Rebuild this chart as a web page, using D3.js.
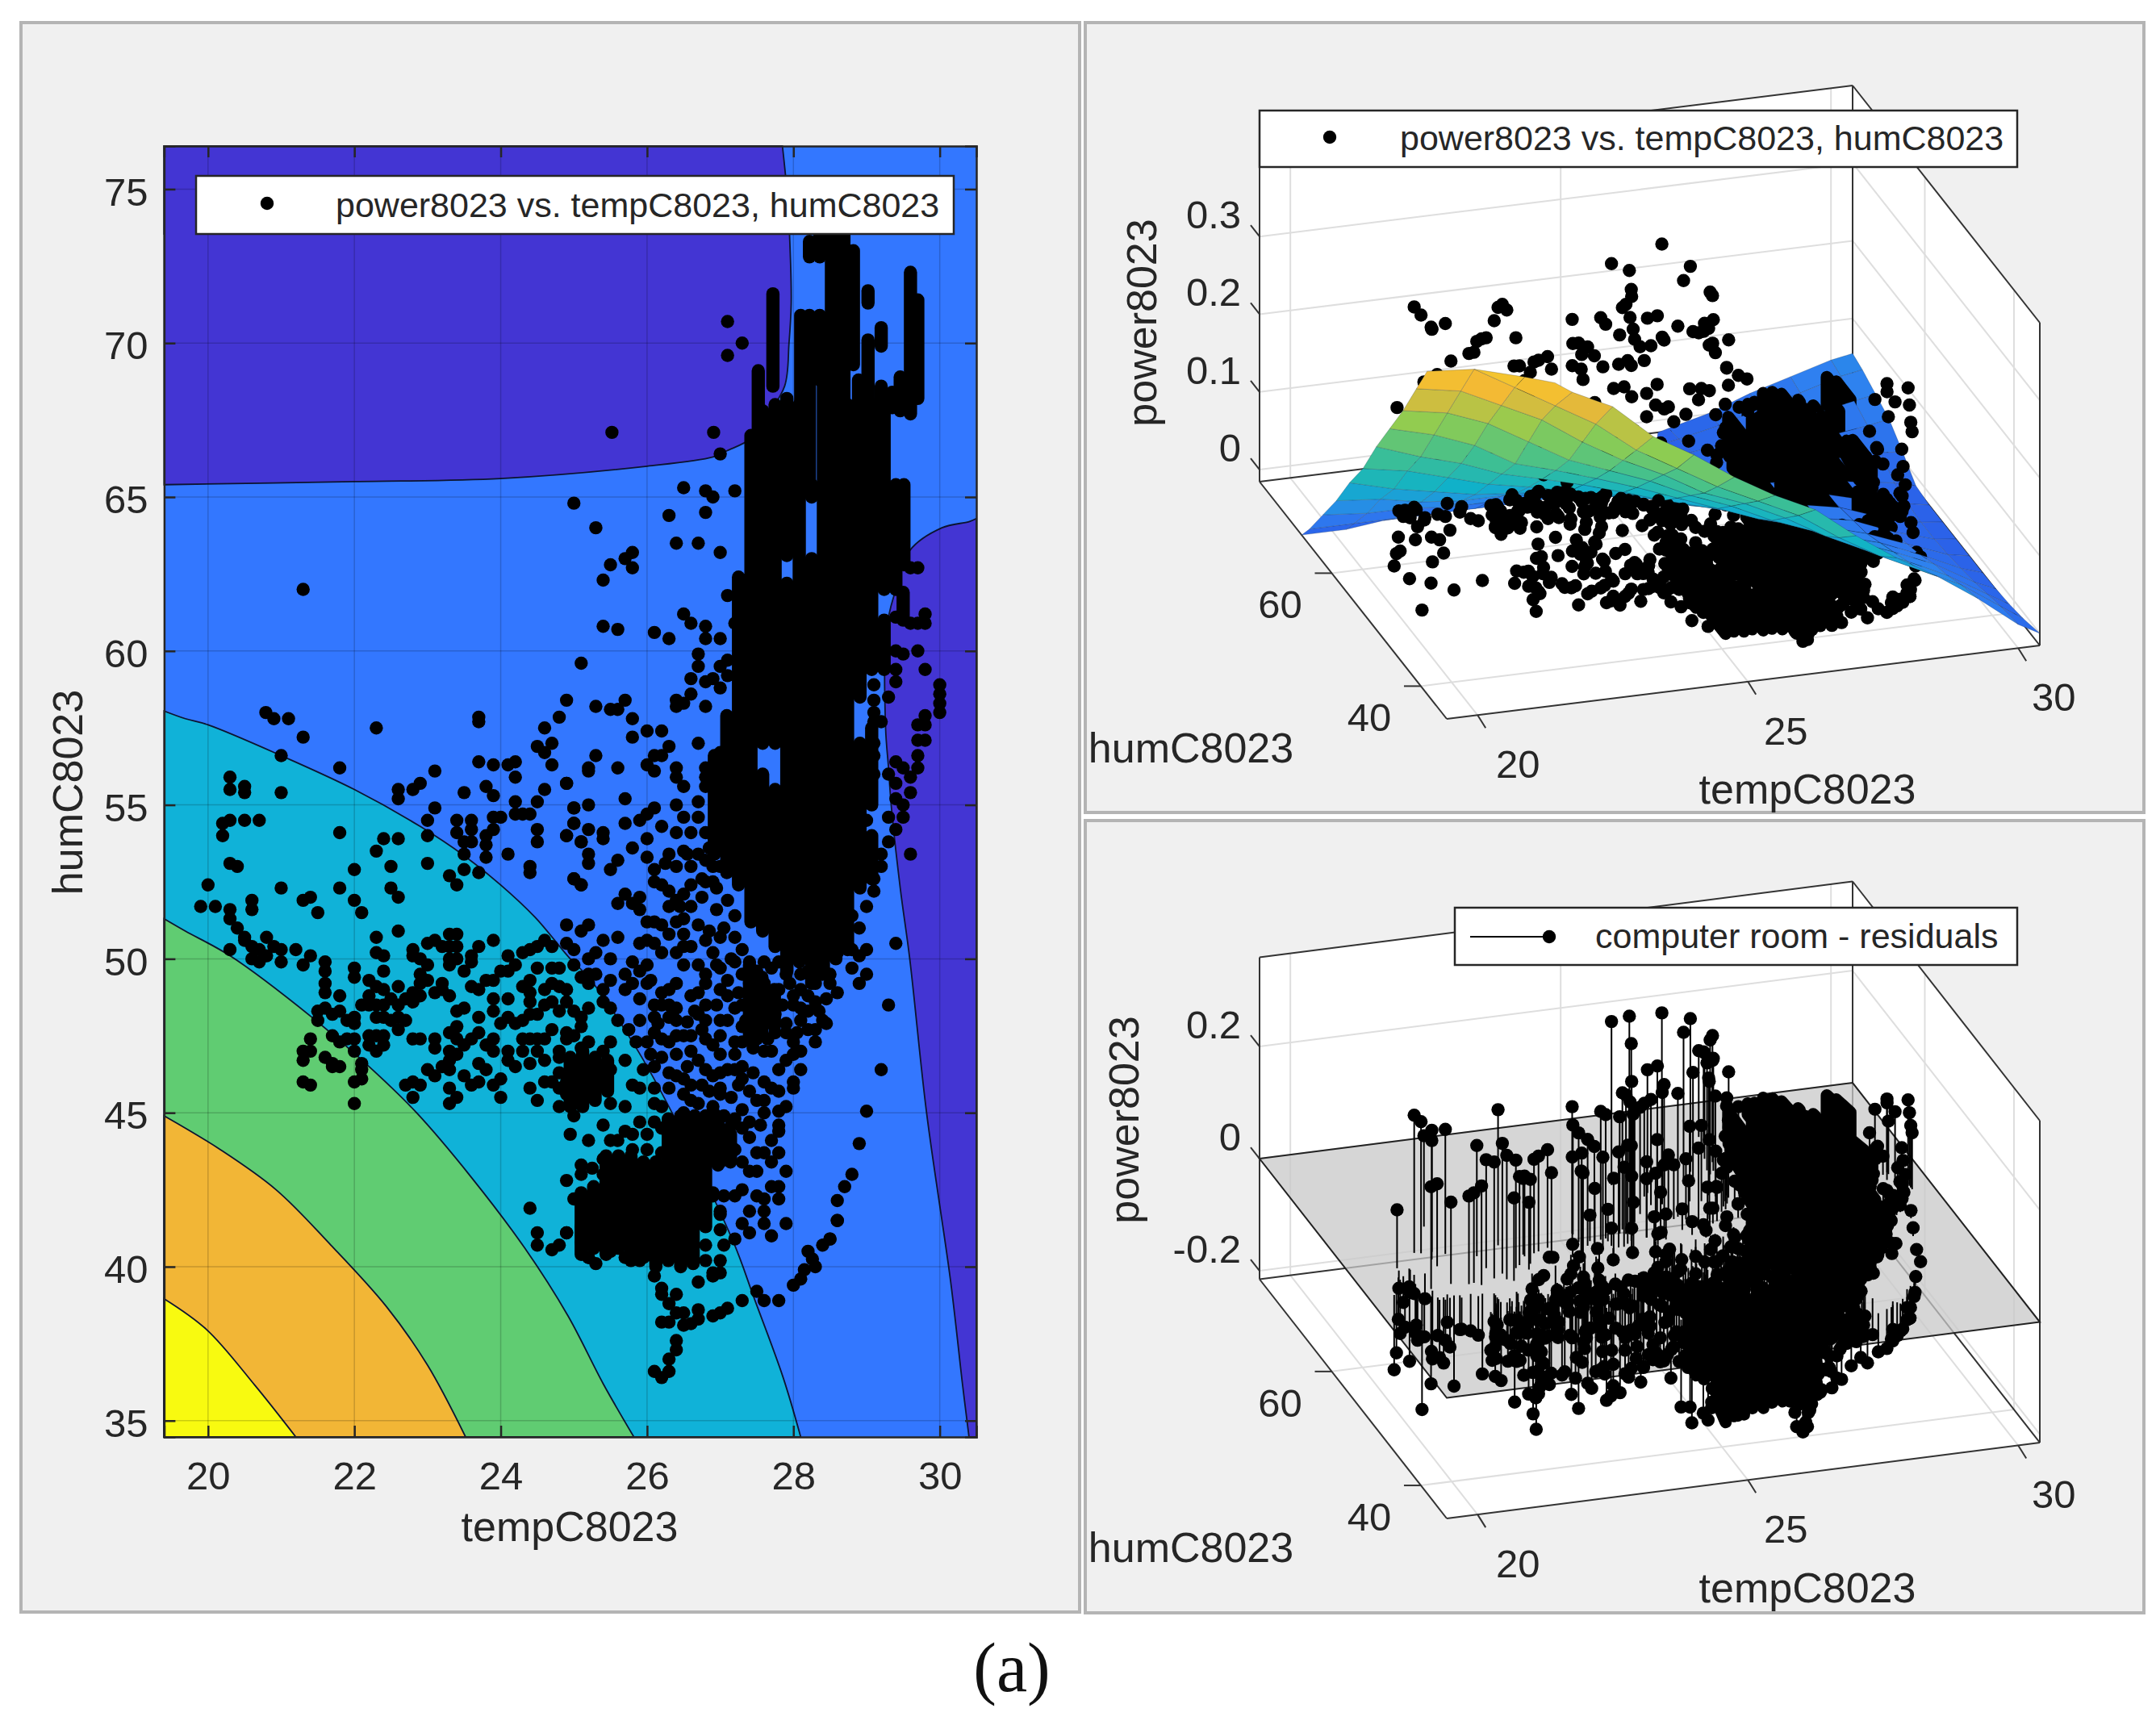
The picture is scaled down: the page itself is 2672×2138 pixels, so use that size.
<!DOCTYPE html>
<html>
<head>
<meta charset="utf-8">
<script src="https://d3js.org/d3.v7.min.js"></script>
<style>
  body { margin: 0; background: #fff; }
  text { font-family: "Liberation Sans", Arial, sans-serif; fill: #262626; }
</style>
</head>
<body>
<div id="chart"></div>
<script>
// tick labels
var tempTicks2d = [20, 22, 24, 26, 28, 30];
var humTicks2d = [35, 40, 45, 50, 55, 60, 65, 70, 75];
var tempTicks3d = [20, 25, 30];
var humTicks3d = [40, 60];
var powerTicks = [0, 0.1, 0.2, 0.3];
var residualTicks = [-0.2, 0, 0.2];

// filled contour bands of the fit, read as [tempC, humC]; the last point of each is a plot corner
var bandDarkest = [[19.4,73.55],[19.98,74.2],[20.93,75.6],[21.45,76.4],[19.4,76.4]];
var bandPurpleTop = [[19.4,65.4],[22,65.5],[24,65.6],[26,66],[26.9,66.3],[27.09,66.5],[27.42,66.9],[27.6,67.5],[27.88,68.6],[27.94,70],[27.97,71.3],[27.96,72.7],[27.92,74.7],[27.85,76.4],[19.4,76.4]];
var bandPurpleRight = [[30.5,64.3],[30.4,64.2],[30.03,64],[29.59,63.26],[29.4,62],[29.27,60.7],[29.26,57.5],[29.3,56.2],[29.34,54.9],[29.46,52.3],[29.59,50],[29.82,45],[30.15,39.5],[30.31,36.2],[30.4,34.47],[30.5,34.47]];
var bandCyan = [[19.4,58.05],[19.69,57.8],[20,57.6],[21,56.6],[22,55.5],[22.9,54.3],[23.5,53.35],[24,52.4],[24.47,51.35],[24.95,50],[25.2,49.4],[25.84,47.15],[26.35,44.96],[27.18,40.8],[27.46,39],[27.86,36.4],[28.1,34.47],[19.4,34.47]];
var bandGreen = [[19.4,51.3],[19.69,50.9],[20.3,50.1],[21.42,48.1],[22.2,46.5],[22.85,45],[23.6,42.9],[24.33,40.6],[24.92,38.4],[25.4,36.2],[25.82,34.47],[19.4,34.47]];
var bandOrange = [[19.4,44.9],[20.17,43.8],[20.93,42.5],[21.68,40.7],[22.44,38.7],[23,36.8],[23.52,34.47],[19.4,34.47]];
var bandYellow = [[19.4,38.96],[19.98,37.96],[20.64,36.15],[21.2,34.47],[19.4,34.47]];

// fitted surface, estimated from the contours: one row per tempGrid value, one column per humGrid value
var tempGrid = [19.43,20.25,21,21.75,22.5,23.25,24,24.75,25.5,26.25,27,27.75,28.5,29.25,30,30.4];
var humGrid = [34.2,38,41,44,47,50,53,56,59,62,65,68,71,74,76.2];
var fitGrid = [
  [.47,.41,.36,.31,.265,.22,.17,.13,.085,.045,.005,-.03,-.07,-.11,-.14],
  [.46,.40,.35,.30,.25,.20,.16,.115,.08,.04,.005,-.03,-.06,-.09,-.11],
  [.42,.37,.325,.28,.23,.185,.145,.105,.07,.04,.005,-.02,-.05,-.08,-.095],
  [.385,.34,.30,.25,.20,.165,.13,.095,.065,.035,.005,-.02,-.04,-.07,-.085],
  [.36,.31,.265,.22,.185,.152,.12,.09,.065,.035,.005,-.015,-.035,-.055,-.07],
  [.315,.27,.235,.20,.168,.138,.108,.085,.06,.03,.005,-.01,-.03,-.05,-.06],
  [.285,.24,.21,.18,.15,.122,.095,.075,.05,.03,.007,-.01,-.025,-.04,-.05],
  [.25,.21,.18,.155,.13,.105,.085,.065,.045,.03,.007,-.01,-.02,-.035,-.04],
  [.22,.185,.16,.135,.11,.09,.07,.055,.04,.025,.007,-.005,-.015,-.025,-.03],
  [.195,.16,.135,.11,.09,.075,.06,.045,.03,.02,.007,-.005,-.01,-.02,-.025],
  [.155,.125,.105,.09,.075,.06,.045,.035,.025,.015,.01,-.002,-.005,-.01,-.012],
  [.12,.095,.08,.07,.055,.045,.035,.03,.02,.015,.01,.004,.002,.001,.001],
  [.09,.07,.06,.05,.04,.03,.025,.02,.015,.012,.012,.012,.014,.016,.02],
  [.055,.045,.035,.028,.018,.01,.004,.001,.001,.003,.012,.018,.025,.03,.035],
  [.015,.01,.004,-.002,-.006,-.01,-.012,-.012,-.01,-.005,.012,.025,.035,.045,.05],
  [0,-.008,-.012,-.014,-.015,-.015,-.015,-.015,-.015,-.012,.01,.03,.04,.05,.055]
];

// measured points as [tempC, humC, power], grouped by where they sit in the left plot
var ptsUpper = [
  [25.52,67.1,.27],[26.91,67.1,.19],[27,66.4,.23],[27.1,70.7,.15],[27.3,70,.14],[27.1,69.6,.16],[21.3,62,.2],
  [25,64.8,.30],[25.3,64,.27],[26.3,64.4,.27],[26.8,64.5,.25],[26.5,65.3,.28],[26.8,65.2,.2],[26.9,65,.21],[27.2,65.2,.18],
  [26.4,63.5,.21],[26.7,63.5,.19],[27,63.2,.16],[25.8,63.2,.33],[25.7,63,.24],[25.5,62.8,.24],[25.8,62.7,.21],[25.4,62.3,.19],
  [27.1,61.8,.16],[27.3,62.3,.15],[26.5,61.2,.23],[26.6,60.9,.2],[25.4,60.8,.22],[25.6,60.7,.23],[26.1,60.6,.16],[26.3,60.4,.16],
  [26.8,60.8,.18],[26.8,60.4,.16],[27,60.4,.13],[27.2,60.9,.12],[26.7,59.9,.14],[26.7,59.5,.09],[25.1,59.6,.23],[27,59.5,.1],[27.1,59.7,.08],
  [26.6,59.1,.11],[26.8,59,.07],[26.9,59.1,.06],[27,58.8,.05],[27.1,59.2,.05],[26.6,58.6,.12],[26.4,58.4,.14],[26.5,58.3,.1],[26.4,58.2,.08],[26.8,58.2,.04],
  [24.9,58.4,.25],[25.3,58.2,.19],[25.5,58.1,.16],[25.6,58.1,.14],[25.7,58.4,.26],[25.8,57.8,.15],[26,57.4,.17],[26.2,57.4,.18],[25.8,57.2,.12],
  [26.7,57,.06],[26.3,56.9,.1],[25.3,56.6,.17],[26.1,56.6,.11],[26.2,56.6,.07],[25.2,56.2,.13],[25.2,56.1,.06],[25.6,56.2,.09],[26,56.3,.05],[26.1,56.1,.08],
  [26.4,56.2,.04],[26.4,55.9,.06],[26.5,55.6,.03],[26.8,56.2,.05],[26.8,55.9,.02],[26.8,55.6,.03],[27,56.7,.04],[27,56.1,.02],[24.9,55.7,.17],[25.7,55.2,.08],
  [25,54.9,.05],[25.2,55,.11],[26.1,54.9,.04],[26,54.7,.03],[25.9,54.5,.07],[26.4,55,.02],[26.7,55.1,.03],[26.5,54.6,.02],[26.7,54.6,.03],[25.7,54.4,.03],
  [26.2,54.3,.02],[26.4,54.1,.05],[26.6,54.1,.02],[25,54.4,.03],[25.2,54.2,.06],[25.4,54.1,.02],[25.4,53.9,.04],[24.9,54,.03],[25.1,53.8,.02],[26,53.9,.02],
  [25.8,53.6,.03],[25.2,53.4,.02],[25.2,53.1,.01],[25.6,53.2,.02],[25.5,52.9,.01],[26,53.3,.03],[26.1,52.9,.01],[26.3,53.4,.02],[26.5,53.5,.01],[26.4,53,.02],
  [26.6,53,.01],[26.7,53.4,.02],[26.8,53.2,.01],[26.9,53,.02],[27,53,.01],[25,52.6,.02],[25.1,52.4,.01],[26.1,52.5,.02],[26.2,52.4,.01],[26.6,52.4,.02],
  [26.8,52.5,.01],[26.9,52.5,.02],[26.8,54.1,.01],[26.9,54,.02],[27,53.7,.01]
];
var ptsLeftSparse = [
  [20.79,58,.33],[20.9,57.8,.32],[21.1,57.8,.3],[21.3,57.2,.31],[22.3,57.5,.32],[23.7,57.85,.29],[23.7,57.7,.26],[24.8,57.85,.31],[24.6,57.5,.3],[21,56.6,.31],
  [21.8,56.2,.29],[23.1,56.1,.26],[23.7,56.4,.27],[23.9,56.3,.12],[24.1,56.3,.3],[24.2,56.4,.29],[24.5,56.9,.27],[24.6,56.7,.31],[24.7,57,.29],[24.7,56.3,.28],
  [24.2,55.9,.13],[20.3,55.9,.22],[20.3,55.5,.09],[20.5,55.6,.085],[20.5,55.4,.08],[21,55.4,.26],[22.6,55.5,.23],[22.6,55.2,.24],[22.8,55.5,.26],[22.9,55.7,.26],
  [23.5,55.4,.25],[23.8,55.6,.27],[23.9,55.3,.26],[24.9,55.7,.2],[24.6,55.5,.24],[24.5,55.1,.25],[23.1,54.9,.09],[24.2,55.1,.11],[24.2,54.7,.06],[24.3,54.7,.25],
  [24.4,54.7,.22],[25,54.9,.19],[20.3,54.5,.09],[20.2,54.4,.065],[20.2,54,.05],[20.5,54.5,.1],[20.7,54.5,.085],[21.8,54.1,.31],[23,54.5,.1],[23,54,.26],
  [22.4,53.9,.27],[22.6,53.9,.26],[22.3,53.5,.31],[23.4,54.5,.06],[23.6,54.5,.27],[23.6,54.2,.24],[23.4,54.1,.12],[23.9,54.6,.09],[24,54.6,.25],[23.9,54.2,.04],
  [23.8,54,.21],[23.5,53.8,.1],[23.6,53.8,.05],[23.8,53.7,.03],[23.5,53.4,.26],[23.8,53.3,.08],[24.1,53.4,.23],[24.5,54.2,.21],[24.5,53.8,.17],[24.9,54,.13],
  [25,54.4,.09],[25.1,53.8,.06],[20.3,53.1,.02],[20.4,53,.07],[23,53.1,.05],[22.5,53,.24],[22,52.9,.36],[23.5,52.9,.08],[23.7,52.8,.04],[23.3,52.7,.11],
  [23.4,52.4,.03],[24.4,53,.14],[24.4,52.8,.1],[25,52.6,.07],[25.1,52.4,.04],[20,52.4,.06],[21,52.3,.3],[21.8,52.3,.345],[22.5,52.3,.1],[22.6,52,.12],
  [21.4,52,.31],[22,51.9,.36],[20.6,51.9,.35],[20.6,51.6,.05],[19.9,51.7,.05],[20.1,51.7,.12],[21.5,51.5,.33],[22.1,51.5,.29],[21.3,51.9,.31],[20.3,51.6,.12],
  [20.3,51.3,.1],[20.4,51,.11],[20.5,50.7,.03],[20.5,50.6,.09],[20.6,50.4,.12],[20.7,50.3,.07],[20.8,50.7,.13],[20.9,50.4,.02],[21,50.3,.12],[21.2,50.3,.11],
  [20.3,50.3,.0],[20.8,50.1,.1],[20.6,50,.09],[20.7,49.9,.12],[21,49.9,.13],[21.3,49.8,.11],[21.4,50.1,.03],[22.3,50.7,.03],[22.6,50.9,.15],[22.3,50.2,.13],
  [22.4,50.1,.05],[22.4,49.6,.14],[21.6,49.9,.12],[21.6,49.6,.1],[21.6,49.2,.13],[21.6,48.9,.11],[22,49.7,.04],[22,49.4,.12],[21.8,48.8,.14],[22.6,49.1,.13]
];
var ptsMidCluster = [
  [22.8,50.3,.13],[22.8,50.1,.05],[22.9,50,.12],[23,50.5,.14],[23.1,50.6,.03],[23,49.8,.13],[22.9,49.5,.12],[23,49.3,.06],[22.9,49.2,.13],[22.8,48.9,.14],
  [22.7,48.7,.11],[22.6,48.5,.13],[22.8,48.6,.02],[22.9,48.8,.12],[23.1,48.9,.13],[23.2,49,.04],[23.3,48.8,.13],[23.2,49.2,.11],[23.3,50.8,.11],[23.4,50.8,.03],
  [23.2,50.4,.12],[23.3,50.4,.02],[23.4,50.4,.1],[23.3,50,.12],[23.4,50,.05],[23.6,50.1,.11],[23.7,50.4,.02],[23.6,49.9,.12],[23.3,49.8,.04],[23.9,50.6,.1],
  [24.1,50.1,.11],[24.3,50.2,.02],[24.4,50.3,.1],[24.2,49.8,.11],[24.1,49.6,.03],[23.9,49.3,.12],[23.8,49.3,.05],[23.6,49.1,.13],[23.7,49,.02],[23.5,49.6,.12],
  [24,49.6,.02],[23.9,48.7,.12],[24.1,48.7,.04],[23.4,48.3,.13],[24.3,49.1,.11],[24.4,49.3,.02],[24.5,49.7,.1],[24.4,48.9,.04],[24.4,48.6,.11],[24.4,48.2,.02],
  [24.5,48.2,.12],[24.6,49,.01],[24.7,48.6,.11],[24.7,49.7,.09],[24.8,49.7,.02],[25,49.8,.1],[24.7,49.2,.03],[24.8,49.1,.09],[24.9,49,.01],[24.9,48.6,.1],
  [25,48.3,.02],[25.1,48.1,.09],[24.2,47.9,.12],[24.3,48,.01],[24,47.9,.11],[24.7,47.7,.01],[24.3,47.4,.12],[24.4,47.4,.02],[24.5,47.4,.1],[24.6,47.4,.01],
  [24.9,47.6,.11],[24.9,47.4,.02],[24.8,47,.1],[24.5,47,.01],[24.8,46.8,.11],[24.4,46.6,.02],[24.1,47,.1],[24.1,46.7,.02],[24.2,46.5,.11],[23.8,47.2,.01],
  [23.9,47.4,.12],[23.9,47,.02],[23.7,47.6,.13],[23.6,47.4,.03],[23.5,47.2,.12],[23.4,47.8,.02],[23.3,47.6,.13],[23.4,47.4,.06],[23.3,47,.13],[23.4,46.9,.03],
  [23.3,46.7,.12],[23.2,46.5,.05],[23,46.4,.13],[23.1,46.2,.03],[23.3,46.4,.11],[23.5,46.2,.02],[23.7,46.6,.1],[23.8,46.4,.02],[23.7,46,.08],[23.6,45.9,.01],
  [23.9,45.9,.06],[24,46.1,.01],[24,45.5,.05],[23.4,45.5,.02],[23.3,45.8,.07],[23.3,45.3,.02],[22.8,46,.1],[22.7,45.9,.04],[22.9,45.9,.09],[22.8,45.5,.02],
  [24.4,45.8,.04],[24.5,45.4,.01],[24.6,46,.05],[24.7,46,.02],[24.8,46.3,.06],[24.9,46,.01],[25,46.4,.05],[25.1,46,.02],[24.8,45.8,.03],[24.9,45.6,.01],
  [25,45.7,.03],[25,45.3,.01],[24.8,45.2,.02],
  [23.9,48.3,.11],[24.1,48.1,.03],[24.6,48.5,.1],[24.8,48.3,.02],[23.5,48.4,.13],[23.7,48.1,.12],[24.3,47,.02],[24.6,46.7,.1],[25.1,47.8,.05],[25,47.5,.02],
  [25.2,48.4,.02],[25.1,49.4,.03],[25,50.3,.03],[25.2,50,.02],[24.7,50.4,.04],[24.9,50.5,.05],[24.6,50.6,.09],[24.5,50.4,.02]
];
var ptsGreenEdge = [
  [22.1,48.5,.13],[22.2,48.8,.14],[22.2,48.5,.04],[22.3,48.5,.13],[22.4,48.5,.05],[22.5,48.7,.14],[22.3,48.1,.02],[22.4,48.1,.13],[22.5,48,.04],[22.6,48.1,.12],
  [22.7,48,.03],[22.6,47.7,.12],[22.3,49.1,.14],[22.2,49.3,.13],[22.4,49,.06],[21.5,48.3,.14],[21.6,48.4,.13],[21.5,48,.14],[21.7,48.2,.12],[21.8,48.3,.15],
  [21.9,48,.13],[22,48.1,.05],[22,47.9,.14],[21.7,47.5,.13],[21.8,47.3,.15],[21.9,47.4,.12],[22,47.4,.14],[22,47,.04],[22.2,47.5,.13],[22.3,47.5,.05],
  [22.4,47.5,.12],[22.2,47.2,.03],[22.3,47,.13],[22.4,47.2,.04],[21.4,47.4,.14],[21.3,47,.15],[21.4,47,.13],[21.3,46.7,.14],[21.6,46.8,.12],[21.7,46.6,.13],
  [21.7,46.5,.05],[21.8,46.5,.12],[22.1,46.6,.04],[22.1,46.4,.12],[21.3,46,.13],[21.4,45.9,.12],[22,46,.03],[22.1,46.1,.1],[22,45.3,.02],[22.8,47.4,.11],
  [22.9,47.4,.03],[23.1,47.4,.11],[23.1,47.1,.02]
];
var ptsCenter = [
  [25.6,51.8,.02],[25.7,52.1,.01],[25.9,52,.03],[25.9,51.6,.01],[25.8,51.8,.02],[26.3,51.7,.01],[26.4,51.9,.03],[24.9,51.1,.05],[25.2,51.1,.03],[25.1,50.9,.01],
  [25.4,50.6,.02],[25.6,50.7,.01],[25.3,50.2,.03],[25.5,50,.02],[26,51.2,.01],[26.1,51.2,.02],[26.2,51.1,.01],[26.4,51.2,.02],[26.5,51.3,.01],[26.7,51.1,.02],
  [26.3,50.8,.01],[26,50.6,.03],[25.9,50.5,.01],[26.1,50.5,.02],[26.2,50.2,.01],[26.5,50.8,.02],[26.5,50.4,.01],[26.4,50.2,.03],[26.6,50.4,.01],[26.8,50.6,.02],
  [26.9,50.2,.01],[27,50.7,.02],[25.8,49.9,.01],[26,49.8,.02],[25.9,49.6,.01],[25.7,49.5,.03],[25.8,49.2,.01],[26,49.2,.02],[25.7,49,.01],[26.5,49.8,.02],
  [26.7,49.8,.01],[26.8,49.5,.02],[26.8,49.2,.01],[26.4,49.2,.02],[26.3,49,.01],[26.6,48.8,.02],[26.7,48.9,.01],[25.5,49.3,.03],[25.2,49.5,.01],[25.3,49.5,.02],
  [25.2,49.2,.01],[25.4,49,.03],[25.4,48.6,.01],[25.5,48.4,.02],[25.6,48,.01],[25.9,48.7,.02],[26.1,48.5,.01],[26.2,48.5,.02],[26.3,48.5,.01],[26.4,48.4,.02],
  [26.1,48.1,.01],[25.9,48,.02],[26.3,48.1,.01],[26.4,48,.03],[26.8,48.5,.01],[26.7,48.2,.02],[26.8,48,.01],[26.8,47.4,.02],[26.6,47.5,.01],[26.5,47.5,.02],
  [26.4,47.5,.01],[26.3,47.3,.03],[26.2,47.4,.01],[26.1,47.6,.02],[26,47.3,.01],[26.4,46.9,.02],[26.6,47,.01],[27,48,.02],[27,47.5,.01],[27.1,48.8,.02],
  [27.1,48,.01],[27.2,47.3,.02],[27.2,49.9,.01],[27,49.7,.02],[27.4,49.9,.01],[27.5,49.6,.02],[27.7,49.7,.01],[27.4,49.2,.02],[27.5,49.1,.01],[27.6,49.2,.02],
  [27.9,49.5,.01],[27.8,49,.02],[28,48.8,.01],[28,48.5,.02],[27.4,48.7,.01],[27.6,48.6,.02],[27.3,48.5,.01],[27.5,48.4,.02],[27.75,48.2,.01],[27.9,47.9,.02],
  [27.9,47.6,.01],[27.3,47.8,.02],[27.4,47.7,.01],[27.5,47.8,.02],[27.5,47.4,.01],[27.3,47.3,.02],[27.6,47,.01],[27.45,47.1,.02],[27.7,47,.01],[27.2,46.9,.02],
  [27,46.9,.01],[28,47.3,.02],[28.1,47,.01],[28,46.9,.02],[27.9,46.7,.01],[27.8,46.4,.02],[28.1,46.4,.01],[28.1,49.5,.02],[28.2,49.6,.01],[28.4,49.5,.02],
  [28.5,49.5,.01],[28.3,49.2,.02],[28.5,49.2,.01],[28.6,48.9,.02],[28.3,48.6,.01],[28.2,48.3,.02],[28.1,48,.01],[28.4,48,.02],[28.2,47.7,.01],[28.3,47.3,.02],
  [28.4,49.9,.01],[28.8,49.7,.04],[29,49.5,.02],[28.9,49.2,.01],[29.4,50.5,.02],[29.3,48.5,.01],[29.2,46.4,.02],[29.1,52.2,.03],[29,51.7,.01],[28.9,51,.02],
  [28.8,50.3,.01],[28.9,50.1,.02],[29,50.3,.01],[28.7,50.6,.02],[28.5,50.6,.01],[28.6,50.2,.02],[28.8,51.4,.01],
  [26.1,46.5,.02],[26.3,46.3,.01],[26.4,46.2,.02],[26.5,46.1,.01],[26.6,45.9,.02],[26.3,45.8,.01],[26.8,46.4,.02],[26.9,46.2,.01],[27,46.3,.02],[27,45.8,.01],
  [27.1,46.4,.02],[27.2,46.4,.01],[27.3,46.5,.02],[27.4,45.7,.01],[27.6,46,.02],[27.7,45.8,.01],[27.8,45.7,.02],[28,46,.01],[28,45.8,.02],[26.5,45.6,.01],
  [26.6,45.4,.02],[26.7,45.3,.01],[26.9,45.2,.02],[27,45.6,.01],[27.3,45.1,.02],[27.6,45.4,.01],[27.6,45,.02],[27.8,45.05,.01],[27.9,45.2,.02],[26.5,45,.01],
  [26.4,44.7,.02],[26.4,44.3,.01],[26.6,44.4,.02],[26.8,44.7,.01],[26.9,44.4,.02],[27,44.5,.01],[27.2,44.8,.02],[27.3,44.5,.01],[27.4,44.7,.02],[27.1,44.2,.01],
  [27.2,43.8,.02],[26.8,44.1,.01],[26.5,43.8,.02],[27.8,44.6,.01],[27.8,44.4,.02],[27.7,44.1,.01],[27.8,43.7,.02],[27.6,43.7,.01],[27.7,43.4,.02],[27.3,43.4,.01],
  [27.4,43.1,.02],[27.5,43.1,.01],[27.9,43.1,.02],[27,43.4,.01],[26.9,43.6,.02],[26.7,43.5,.01],[27.7,42.6,.02],[27.8,42.6,.01],[27.8,42.2,.02],[27.5,42.3,.01],
  [27.6,42.2,.02],[27.4,41.8,.01],[27.6,41.8,.02],[27.6,41.4,.01],[27.7,41,.02],[27.9,41.4,.01],[27.3,42.5,.02],[27.3,41.4,.01],[27.4,41.1,.02],[27.2,40.9,.01],
  [27.2,42.3,.02],[26.9,42.3,.01],[27,41.7,.02]
];
var ptsCenterExtra = [
  [26.75,52,.01],[26.95,51.6,.02],[27.1,51.9,.01],[27.2,51.4,.02],[27.05,51,.01],[27.2,50.7,.02],[26.85,50.9,.01],[27.3,50.3,.02],[27.15,50,.01],[26.95,49.8,.02],
  [27.3,49.5,.01],[27.1,49.3,.02],[27,49,.01],[27.25,48.9,.02],[27.2,48.4,.01],[26.95,48.5,.02],[27.35,48,.01],[27.45,48.6,.02],
  [27.6,49.9,.01],[27.8,49.9,.02],[27.95,49.2,.01],[28.1,49,.02],[28.2,48.8,.01],[27.85,48.5,.02],[27.7,48.7,.01],[28.1,48.4,.02],[27.6,48,.01],[27.75,47.6,.02],
  [27.65,47.4,.01],[28.05,47.6,.02],[28.45,48.7,.01],[28.35,48.3,.02],[28.45,47.9,.01],[28.3,47.7,.02],
  [26.2,48.9,.02],[26.05,49.3,.01],[26.15,47.9,.02],[25.75,47.7,.01],[25.85,47.3,.02],[26.65,48.3,.01],[26.55,47.95,.02],[26.75,47.7,.01],[26.9,47.2,.02],[26.7,46.7,.01],
  [26.55,46.5,.02],[26.2,46.8,.01],[26.05,46.9,.02],[25.95,46.4,.01],[26.75,45.9,.02],[26.85,45.7,.01],[27.15,45.5,.02],[27.25,45.9,.01],[27.45,46.3,.02],[27.3,46.1,.01],
  [27.5,45.4,.02],[27.15,44.6,.01],[27.05,44.9,.02],[26.95,44.9,.01],[26.65,44.9,.02],[27.4,44.2,.01],[27.5,43.7,.02],[27.55,44.6,.01],
  [26.3,52.2,.02],[26.5,52.1,.01],[26.45,51.7,.02],[26.6,51.7,.01],[26.75,52.6,.02],[26.55,53.4,.01],[26.25,53.1,.02],[26.85,53.6,.01],[26.95,52.3,.02]
];
var ptsRight = [
  [29.7,62.7,.1],[29.6,62.7,.06],[29.8,61.2,.12],[29.8,60.9,.09],[29.6,60.9,.05],[29.7,60.9,.03],[29.4,61.1,.04],[29.7,60,.14],[29.5,59.9,.06],[29.4,60,.03],
  [29.8,59.4,.12],[29.4,59.4,.02],[29.4,59,.05],[30,58.9,.14],[30,58.6,.12],[30,58.3,.1],[30,58,.09],[29.8,57.9,.07],[29.7,57.6,.04],[29.7,57.1,.02],
  [29.8,57.6,.05],[29.8,57.1,.03],[29.3,58.5,.02],[29.1,57,.03],[29.7,56.6,.02],[29.7,56.2,.01],[29.4,56.4,.02],[29.5,56.2,.01],[29.3,56,.03],[29.6,55.9,.01],
  [29.4,55.7,.02],[29.6,55.4,.01],[29.4,55.2,.02],[29.5,55,.01],[29.3,54.6,.02],[29.5,54.6,.01],[29.4,54.2,.02],[29.6,53.4,.01],[29.1,58.9,.03],[29.1,58.4,.02],
  [29.1,58,.01],[29.2,57.7,.02],[29.1,57.7,.01],[29,56.3,.02],[29.1,56.6,.01],[29.1,56,.02],[28.7,54.1,.01],[28.8,54.6,.02],[28.9,54.5,.01],[29,54.5,.02],
  [28.7,54.8,.01],[28.85,55.1,.02],[28.6,53.8,.01],[28.9,53.7,.02],[29,53.5,.01],[28.8,53.3,.02],[28.6,53.3,.01],[29.2,53.4,.02],[29.2,53,.01],[29.3,53.8,.02],
  [28.4,53.6,.01],[28.3,53.1,.02],[28.6,52.7,.01],[28.7,52.7,.02],[29.1,52.6,.01],[28.9,53.2,.02]
];
var ptsLowerBlob = [
  [25.5,47.3,.02],[25.2,47.3,.03],[25.1,47.1,.01],[25.4,47,.02],[25.7,46.7,.01],[25.3,46.5,.03],[25.5,46.4,.01],[25.1,46.3,.02],[24.95,46.3,.03],[25.2,45.9,.01],
  [25.4,45.9,.02],[25.5,45.3,.01],[25.7,45.2,.02],[24.95,45.6,.04],[25.1,45.7,.01],[25.25,45.6,.02],[25.9,45.8,.01],[26.1,45.8,.02],[26.1,45.3,.01],[26.2,45.2,.02],
  [25.8,45.9,.01],[25.4,44.6,.02],[25.9,44.7,.01],[26.1,44.7,.02],[25,44.9,.03],[24.95,44.3,.04],[25.2,44.1,.02],[25.5,44.1,.01],[25.6,44.1,.02],[25.8,44.3,.01],
  [25.7,44.4,.02],[26,44.3,.01],[26.2,44.5,.02],[26.3,44.2,.01],[25.8,43.8,.02],[25.4,43.5,.01],[25.6,43.5,.02],[25.8,43.4,.01],[26,43.8,.02],[26.2,43.7,.01],
  [26.3,43.8,.02],[25.4,43,.01],[25.6,43,.02],[25.9,43,.01],[26.1,43,.02],[25.1,43.3,.03],[25.1,43,.01],[24.9,42.8,.04],[25.25,43.2,.02],[26.4,43.3,.01],
  [26.6,43.3,.02],[26.7,42.95,.01],[26.5,42.9,.02],[26.2,42.5,.01],[26.35,42.7,.02],[26.9,42.4,.01],[27.05,42.3,.02],[25,42.2,.03],[25.3,42.2,.01],[25.7,42.3,.02],
  [25.95,42.3,.01],[26.2,42.2,.02],[26.4,42.1,.01],[25.25,41.7,.02],[25.4,41.6,.01],[25.65,41.7,.02],[26,41.7,.01],[26.2,41.8,.02],[26.35,41.6,.01],[27,41.8,.02],
  [24.9,41.1,.03],[25.1,41.3,.01],[25.35,41.3,.02],[25.5,41.2,.01],[25.8,41.3,.02],[26,41.1,.01],[26.2,41.2,.02],[26.5,41,.01],[26.8,40.7,.02],[26.65,41.5,.01],
  [27,41.2,.02],[25.1,40.8,.01],[25.2,40.3,.02],[25.3,40.1,.01],[25.5,40.5,.02],[25.7,40.3,.01],[25.9,40.2,.02],[26.1,40.3,.01],[26.1,39.7,.02],[26.8,40.2,.01],
  [26.9,39.8,.02],[27,40.2,.01],[27.05,40.7,.02],[24.5,41.1,.04],[24.5,40.7,.02],[24.7,40.55,.03],[24.8,40.7,.01],[24.9,41.1,.02],[24.4,41.9,.03],[25.2,40.3,.02]
];
var ptsTail = [
  [26.2,39.3,.01],[26.2,39.1,.02],[26.4,39.1,.01],[26.3,38.8,.02],[26.4,38.5,.01],[26.5,38.5,.02],[26.2,38.2,.01],[26.3,38.2,.02],[26.5,38.1,.01],[26.6,38.15,.02],
  [26.7,38.6,.01],[26.7,38.3,.02],[26.9,38.4,.01],[27,38.5,.02],[27.1,38.65,.01],[27.3,38.9,.02],[26.7,39.5,.01],[26.9,39.7,.02],[27,39.8,.01],[27.5,39.2,.02],
  [27.6,38.9,.01],[27.8,38.9,.02],[28,39.4,.01],[28.1,39.6,.02],[28.15,39.9,.01],[28.3,40,.02],[28.26,40.25,.01],[28.2,40.5,.02],[28.4,40.7,.01],[28.5,40.9,.02],
  [28.6,41.5,.01],[28.6,42.15,.02],[28.7,42.6,.01],[28.8,43,.02],[28.9,44,.01],[29,45.05,.02],[28.6,41.5,.01],[28.5,40.9,.02],
  [26.4,37.6,.01],[26.4,37.3,.02],[26.3,37,.01],[26.3,36.6,.01],[26.1,36.6,.02],[26.2,36.4,.01]
];

// saturated columns of the left plot as [tempC, humC top, humC bottom, power low, power high]
var denseColumns = [
  [27.72,71.6,68.6,0,.03],[27.52,69.1,65.4,0,.03],[28.1,70.9,67.8,0,.03],[28.22,73.3,72.8,.01,.03],[28.22,70.9,65.4,0,.03],
  [28.36,73.5,72.8,.01,.03],[28.36,70.9,68.8,0,.03],[28.52,73.5,65.4,0,.04],[28.69,73.5,65.4,0,.04],[28.82,73,69.3,.01,.04],
  [28.89,68.8,65.4,0,.04],[29.02,71.7,71.3,.01,.04],[29.02,70.1,65.4,0,.04],[29.2,70.5,69.9,.01,.04],[29.2,68.6,67.7,.01,.04],
  [29.35,68.4,67.9,.01,.05],[29.46,68.9,67.8,.01,.05],[29.6,72.3,67.7,.01,.06],[29.7,71.4,68.2,.01,.06],
  [27.42,67,51.2,0,.03],[27.25,62.4,52.4,0,.03],[27.09,57.9,52.8,0,.03],[26.92,56.6,53.4,0,.03],
  [27.58,67.8,57,0,.03],[27.58,56,50.9,0,.03],[27.75,68,57,0,.03],[27.75,55.5,50.4,0,.03],[27.91,68.2,63.1,0,.03],[27.91,62.2,49.6,0,.03],
  [28.08,68,49.9,0,.03],[28.25,65.4,65,0,.03],[28.25,63,49.2,0,.03],[28.41,68.8,49.6,0,.03],[28.58,68,50,0,.03],[28.74,68,50.3,0,.03],
  [28.91,68,58.5,0,.03],[28.91,57,52.3,0,.03],[29.07,68,59.4,0,.03],[29.07,57.5,55,0,.03],[29.07,54,52.6,0,.03],[29.24,67.7,62,0,.03],[29.24,61,59.4,0,.03],[29.4,65.4,62,0,.03],
  [29.51,65.4,62.8,0,.03],[29.5,61.9,61,0,.03],
  [25.1,42.4,40.4,0,.02],[25.27,42.6,40.6,0,.02],[25.44,43.6,40.4,0,.02],[25.61,43.6,40.6,0,.02],[25.78,43.6,40.2,0,.02],[25.95,43.4,40.3,0,.02],
  [26.12,43.4,40,0,.02],[26.29,44.8,40.2,0,.02],[26.46,44.9,40,0,.02],[26.63,44.8,40.1,0,.02],[26.8,44.9,41.3,0,.02],[26.97,44.7,43.3,0,.02],[27.14,44.3,43.4,0,.02],
  [24.95,46.8,45.2,0,.02],[25.12,47,45.2,0,.02],[25.29,46.8,45.4,0,.02],[25.46,46.7,45.7,0,.02],
  [27.4,49.8,47.4,0,.02],[27.57,49.4,47.5,0,.02],[27.74,49,47.8,0,.02]
];

var legendScatter = "power8023 vs. tempC8023, humC8023";
var legendResiduals = "computer room - residuals";

var scatter = [].concat(ptsUpper, ptsLeftSparse, ptsMidCluster, ptsGreenEdge, ptsCenter, ptsCenterExtra, ptsRight, ptsLowerBlob, ptsTail);

var svg = d3.select("#chart").append("svg").attr("width", 2672).attr("height", 2138);
svg.append("rect").attr("width", 2672).attr("height", 2138).attr("fill", "#fff");

var panelBoxes = [[26, 28, 1312, 1970], [1345, 28, 1312, 979], [1345, 1017, 1312, 982]];
svg.selectAll("rect.panel").data(panelBoxes).join("rect").attr("class", "panel")
  .attr("x", function(d) { return d[0]; }).attr("y", function(d) { return d[1]; })
  .attr("width", function(d) { return d[2]; }).attr("height", function(d) { return d[3]; })
  .attr("fill", "#f0f0f0").attr("stroke", "#b4b4b4").attr("stroke-width", 4);

var fontTick = 49, fontLabel = 52, fontLegend = 43, markerR = 8.2;

// ---------- left plot ----------
var x = d3.scaleLinear().domain([19.4, 30.5]).range([203.4, 1210]);
var y = d3.scaleLinear().domain([34.47, 76.4]).range([1781, 181]);
var left = svg.append("g");
var bandCurve = d3.line().x(function(d) { return x(d[0]); }).y(function(d) { return y(d[1]); }).curve(d3.curveCatmullRom);

left.append("rect").attr("x", 203.4).attr("y", 181).attr("width", 1210 - 203.4).attr("height", 1600).attr("fill", "#3377ff");
[[bandDarkest, "#3f27a8"], [bandPurpleTop, "#4335d3"], [bandPurpleRight, "#4335d3"], [bandCyan, "#10b2d8"],
 [bandGreen, "#60cc72"], [bandOrange, "#f2b636"], [bandYellow, "#f8fa10"]].forEach(function(b) {
  var corner = b[0][b[0].length - 1];
  left.append("path").attr("d", bandCurve(b[0].slice(0, -1)) + "L" + x(corner[0]) + "," + y(corner[1]) + "Z")
    .attr("fill", b[1]).attr("stroke", "#0c1430").attr("stroke-width", 1.8);
});

// grid and ticks
left.append("g").selectAll("line").data(tempTicks2d).join("line")
  .attr("x1", x).attr("x2", x).attr("y1", 181).attr("y2", 1781).attr("stroke", "#000").attr("stroke-opacity", 0.18).attr("stroke-width", 1.5);
left.append("g").selectAll("line").data(humTicks2d).join("line")
  .attr("y1", y).attr("y2", y).attr("x1", 203.4).attr("x2", 1210).attr("stroke", "#000").attr("stroke-opacity", 0.18).attr("stroke-width", 1.5);

left.append("g").attr("fill", "none").attr("stroke", "#000").attr("stroke-width", 16.4).attr("stroke-linecap", "round")
  .selectAll("path").data(denseColumns).join("path")
  .attr("d", function(d) { return d3.line()([[x(d[0]), y(d[1])], [x(d[0]), y(d[2])]]); });
left.append("g").selectAll("circle").data(scatter).join("circle")
  .attr("cx", function(d) { return x(d[0]); }).attr("cy", function(d) { return y(d[1]); })
  .attr("r", markerR).attr("fill", "#000");

var axB = left.append("g").attr("transform", "translate(0,1781)").call(d3.axisBottom(x).tickValues(tempTicks2d).tickSize(-14).tickPadding(30));
var axL = left.append("g").attr("transform", "translate(203.4,0)").call(d3.axisLeft(y).tickValues(humTicks2d).tickSize(-14).tickPadding(20));
var axT = left.append("g").attr("transform", "translate(0,181)").call(d3.axisTop(x).tickValues(tempTicks2d).tickSize(-14).tickFormat(""));
var axR = left.append("g").attr("transform", "translate(1210,0)").call(d3.axisRight(y).tickValues(humTicks2d).tickSize(-14).tickFormat(""));
[axB, axL, axT, axR].forEach(function(a) {
  a.selectAll("path,line").attr("stroke", "#262626").attr("stroke-width", 2.5);
  a.selectAll("text").attr("font-size", fontTick).attr("font-family", "Liberation Sans").attr("fill", "#262626");
});
axL.selectAll("text").attr("dy", "0.4em");
left.append("text").attr("x", 706).attr("y", 1910).attr("text-anchor", "middle").attr("font-size", fontLabel).text("tempC8023");
left.append("text").attr("transform", "translate(102,982) rotate(-90)").attr("text-anchor", "middle").attr("font-size", fontLabel).text("humC8023");

function legend(g, box, textX, textY, label) {
  g.append("rect").attr("x", box[0]).attr("y", box[1]).attr("width", box[2]).attr("height", box[3])
    .attr("fill", "#fff").attr("stroke", "#262626").attr("stroke-width", 2.5);
  g.append("text").attr("x", textX).attr("y", textY).attr("font-size", fontLegend).attr("fill", "#000").text(label);
}
legend(left, [243, 218, 939, 72], 416, 269, legendScatter);
left.append("circle").attr("cx", 331).attr("cy", 252).attr("r", markerR).attr("fill", "#000");

// ---------- 3D panels ----------
var surfaceColor = d3.scaleLinear()
  .domain([-0.02, 0.04, 0.12, 0.2, 0.28, 0.36, 0.45])
  .range(["#2a5ee8", "#2f80f0", "#10b2c8", "#40c090", "#90cc50", "#f2b636", "#f8e020"]).clamp(true);

function fitAt(t, h) {
  var i = Math.max(0, Math.min(tempGrid.length - 2, d3.bisectRight(tempGrid, t) - 1));
  var j = Math.max(0, Math.min(humGrid.length - 2, d3.bisectRight(humGrid, h) - 1));
  var a = (t - tempGrid[i]) / (tempGrid[i + 1] - tempGrid[i]);
  var b = (h - humGrid[j]) / (humGrid[j + 1] - humGrid[j]);
  return (1 - a) * ((1 - b) * fitGrid[i][j] + b * fitGrid[i][j + 1]) + a * ((1 - b) * fitGrid[i + 1][j] + b * fitGrid[i + 1][j + 1]);
}

function makeBox(g, cfg) {
  var sT = d3.scaleLinear().domain([19.43, 30.4]).range([0, 1]);
  var sH = d3.scaleLinear().domain([34.2, 76.2]).range([0, 1]);
  var sZ = d3.scaleLinear().domain(cfg.zDomain).range([0, 1]);
  var tMin = 19.43, tMax = 30.4, hMin = 34.2, hMax = 76.2, zMin = cfg.zDomain[0], zMax = cfg.zDomain[1];
  function p(t, h, z) {
    var a = sT(t), b = sH(h);
    return [cfg.front[0] + a * (cfg.right[0] - cfg.front[0]) + b * (cfg.left[0] - cfg.front[0]),
            cfg.front[1] + a * (cfg.right[1] - cfg.front[1]) + b * (cfg.left[1] - cfg.front[1]) - sZ(z) * cfg.height];
  }
  var line = d3.line();
  g.append("path").attr("fill", "#fff")
    .attr("d", line([p(tMin, hMax, zMax), p(tMax, hMax, zMax), p(tMax, hMin, zMax), p(tMax, hMin, zMin), p(tMin, hMin, zMin), p(tMin, hMax, zMin)]) + "Z");

  var gridSegs = [];
  tempTicks3d.forEach(function(t) { gridSegs.push([p(t, hMin, zMin), p(t, hMax, zMin)], [p(t, hMax, zMin), p(t, hMax, zMax)]); });
  humTicks3d.forEach(function(h) { gridSegs.push([p(tMin, h, zMin), p(tMax, h, zMin)], [p(tMax, h, zMin), p(tMax, h, zMax)]); });
  cfg.zTicks.forEach(function(z) { gridSegs.push([p(tMin, hMax, z), p(tMax, hMax, z)], [p(tMax, hMax, z), p(tMax, hMin, z)]); });
  g.append("g").selectAll("path").data(gridSegs).join("path").attr("d", line)
    .attr("stroke", "#dedede").attr("stroke-width", 2).attr("fill", "none");

  var boxSegs = [
    [p(tMin, hMax, zMax), p(tMax, hMax, zMax)], [p(tMax, hMax, zMax), p(tMax, hMin, zMax)],
    [p(tMin, hMax, zMax), p(tMin, hMax, zMin)], [p(tMax, hMax, zMax), p(tMax, hMax, zMin)], [p(tMax, hMin, zMax), p(tMax, hMin, zMin)],
    [p(tMin, hMax, zMin), p(tMin, hMin, zMin)], [p(tMin, hMin, zMin), p(tMax, hMin, zMin)],
    [p(tMin, hMax, zMin), p(tMax, hMax, zMin)], [p(tMax, hMax, zMin), p(tMax, hMin, zMin)]
  ];
  g.append("g").selectAll("path").data(boxSegs).join("path").attr("d", line)
    .attr("stroke", "#333").attr("stroke-width", 2).attr("fill", "none");

  // ticks and labels
  var tickSegs = [];
  cfg.zTicks.forEach(function(z) {
    var o = p(tMin, hMax, z);
    tickSegs.push([o, [o[0] - 11, o[1] - 14]]);
    g.append("text").attr("x", o[0] - 23).attr("y", o[1] - 10).attr("text-anchor", "end").attr("font-size", fontTick).text(d3.format("")(z).replace("\u2212", "-"));
  });
  humTicks3d.forEach(function(h) {
    var o = p(tMin, h, zMin);
    tickSegs.push([o, [o[0] - 21, o[1]]]);
    g.append("text").attr("x", o[0] - 64).attr("y", o[1] + 56).attr("text-anchor", "middle").attr("font-size", fontTick).text(h);
  });
  tempTicks3d.forEach(function(t) {
    var o = p(t, hMin, zMin);
    tickSegs.push([o, [o[0] + 10, o[1] + 16]]);
    g.append("text").attr("x", o[0] + 50 - (t - 20) * 0.6).attr("y", o[1] + 78).attr("text-anchor", "middle").attr("font-size", fontTick).text(t);
  });
  g.append("g").selectAll("path").data(tickSegs).join("path").attr("d", line).attr("stroke", "#333").attr("stroke-width", 2);

  g.append("text").attr("x", 1476).attr("y", cfg.humLabelY).attr("text-anchor", "middle").attr("font-size", fontLabel).text("humC8023");
  g.append("text").attr("x", 2240).attr("y", cfg.tempLabelY).attr("text-anchor", "middle").attr("font-size", fontLabel).text("tempC8023");
  g.append("text").attr("transform", "translate(" + cfg.powerLabel[0] + "," + cfg.powerLabel[1] + ") rotate(-90)").attr("text-anchor", "middle").attr("font-size", fontLabel).text("power8023");
  return p;
}

function dot(c) {
  var path = d3.path();
  path.arc(c[0], c[1], markerR, 0, 2 * Math.PI);
  return path.toString();
}

// top right: fit surface with the points, painted back to front
var surfaceG = svg.append("g");
var p2 = makeBox(surfaceG, {
  front: [1793, 891], right: [2528, 800], left: [1561, 597], height: 400,
  zDomain: [-0.0155, 0.3999], zTicks: powerTicks,
  humLabelY: 945, tempLabelY: 996, powerLabel: [1433, 400]
});

// keep the part of a face between the axis limits
function clipFace(face, zLo, zHi) {
  function clip(poly, inside) {
    var out = [];
    poly.forEach(function(a, i) {
      var b = poly[(i + 1) % poly.length], ia = inside(a), ib = inside(b);
      if (ia) out.push(a);
      if (ia !== ib) {
        var lim = inside.lim, f = (lim - a[2]) / (b[2] - a[2]);
        out.push([a[0] + f * (b[0] - a[0]), a[1] + f * (b[1] - a[1]), lim]);
      }
    });
    return out;
  }
  var low = function(v) { return v[2] >= zLo; }; low.lim = zLo;
  var high = function(v) { return v[2] <= zHi; }; high.lim = zHi;
  return clip(clip(face, low), high);
}

function floorDepth(p, t, h) { return p(t, h, -0.0155)[1]; }

var items2 = [];
for (var i = 0; i < tempGrid.length - 1; i++) {
  for (var j = 0; j < humGrid.length - 1; j++) {
    var face = clipFace([
      [tempGrid[i], humGrid[j], fitGrid[i][j]], [tempGrid[i + 1], humGrid[j], fitGrid[i + 1][j]],
      [tempGrid[i + 1], humGrid[j + 1], fitGrid[i + 1][j + 1]], [tempGrid[i], humGrid[j + 1], fitGrid[i][j + 1]]
    ], -0.0155, 0.3999);
    if (face.length < 3) continue;
    items2.push({
      depth: floorDepth(p2, (tempGrid[i] + tempGrid[i + 1]) / 2, (humGrid[j] + humGrid[j + 1]) / 2),
      d: d3.line()(face.map(function(v) { return p2(v[0], v[1], v[2]); })) + "Z",
      fill: surfaceColor(d3.mean(face, function(v) { return v[2]; })),
      stroke: "#1a2a40", sw: 0.8, so: 0.3
    });
  }
}
scatter.forEach(function(d) {
  items2.push({ depth: floorDepth(p2, d[0], d[1]), d: dot(p2(d[0], d[1], d[2])), fill: "#000", stroke: "none", sw: 0, so: 0 });
});
denseColumns.forEach(function(d) {
  items2.push({
    depth: floorDepth(p2, d[0], (d[1] + d[2]) / 2),
    d: d3.line()([p2(d[0], d[1], d[3]), p2(d[0], d[2], d[3]), p2(d[0], d[2], d[4]), p2(d[0], d[1], d[4])]) + "Z",
    fill: "#000", stroke: "#000", sw: 15, so: 1
  });
});
items2.sort(function(a, b) { return a.depth - b.depth; });
surfaceG.append("g").selectAll("path").data(items2).join("path")
  .attr("d", function(d) { return d.d; }).attr("fill", function(d) { return d.fill; })
  .attr("stroke", function(d) { return d.stroke; }).attr("stroke-width", function(d) { return d.sw; })
  .attr("stroke-opacity", function(d) { return d.so; }).attr("stroke-linejoin", "round");

legend(surfaceG, [1561, 137, 939, 70], 1735, 186, legendScatter);
surfaceG.append("circle").attr("cx", 1648).attr("cy", 170).attr("r", markerR).attr("fill", "#000");

// bottom right: residuals as stems from the zero plane
var resG = svg.append("g");
var p3 = makeBox(resG, {
  front: [1793, 1882], right: [2528, 1788], left: [1561, 1585.5], height: 399,
  zDomain: [-0.215, 0.359], zTicks: residualTicks,
  humLabelY: 1936, tempLabelY: 1986, powerLabel: [1411, 1388]
});
resG.append("path").attr("d", d3.line()([p3(19.43, 34.2, 0), p3(30.4, 34.2, 0), p3(30.4, 76.2, 0), p3(19.43, 76.2, 0)]) + "Z")
  .attr("fill", "#c8c8c8").attr("fill-opacity", 0.75).attr("stroke", "#222").attr("stroke-width", 2);

// the stems of a saturated column merge into one sheet down to its residuals
var sheets = denseColumns.map(function(d) {
  var r0 = d[3] - fitAt(d[0], d[1]), r1 = d[4] - fitAt(d[0], d[1]), r2 = d[3] - fitAt(d[0], d[2]), r3 = d[4] - fitAt(d[0], d[2]);
  return [p3(d[0], d[1], Math.min(r0, 0)), p3(d[0], d[2], Math.min(r2, 0)), p3(d[0], d[2], Math.max(r3, 0)), p3(d[0], d[1], Math.max(r1, 0))];
});
resG.append("g").selectAll("path").data(sheets).join("path")
  .attr("d", function(d) { return d3.line()(d) + "Z"; })
  .attr("fill", "#000").attr("stroke", "#000").attr("stroke-width", 15).attr("stroke-linejoin", "round");

var residuals = scatter.map(function(d) { return [d[0], d[1], d[2] - fitAt(d[0], d[1])]; });
resG.append("g").selectAll("line").data(residuals).join("line")
  .attr("x1", function(d) { return p3(d[0], d[1], 0)[0]; }).attr("y1", function(d) { return p3(d[0], d[1], 0)[1]; })
  .attr("x2", function(d) { return p3(d[0], d[1], d[2])[0]; }).attr("y2", function(d) { return p3(d[0], d[1], d[2])[1]; })
  .attr("stroke", "#000").attr("stroke-width", 2);
resG.append("g").selectAll("circle").data(residuals).join("circle")
  .attr("cx", function(d) { return p3(d[0], d[1], d[2])[0]; }).attr("cy", function(d) { return p3(d[0], d[1], d[2])[1]; })
  .attr("r", markerR).attr("fill", "#000");

legend(resG, [1803, 1125, 697, 71], 1977, 1175, legendResiduals);
resG.append("path").attr("d", d3.line()([[1822, 1161], [1920, 1161]])).attr("stroke", "#000").attr("stroke-width", 2);
resG.append("circle").attr("cx", 1920).attr("cy", 1161).attr("r", markerR).attr("fill", "#000");

// caption
svg.append("text").attr("x", 1254).attr("y", 2096).attr("text-anchor", "middle")
  .attr("font-size", 86).style("font-family", "'Liberation Serif', serif").style("fill", "#111").text("(a)");
</script>
</body>
</html>
